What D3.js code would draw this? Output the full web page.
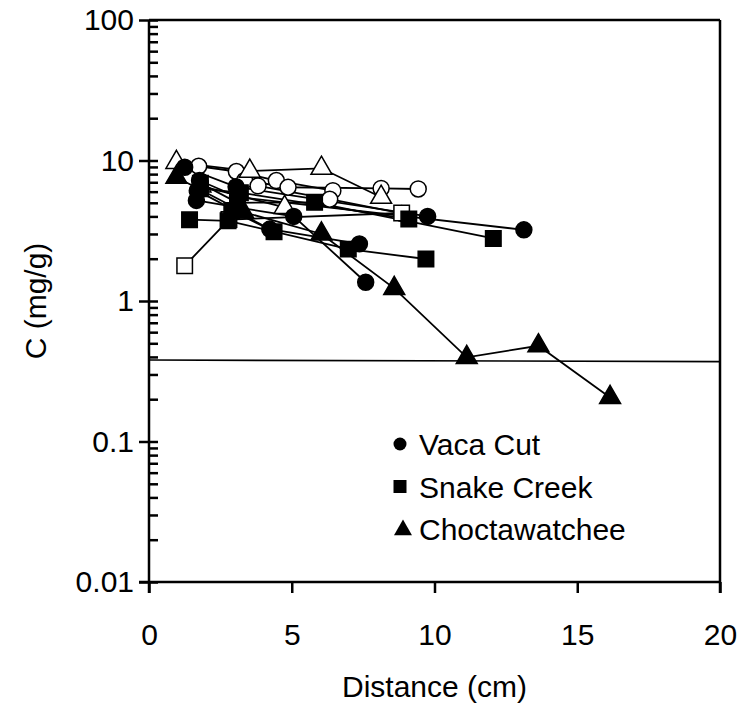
<!DOCTYPE html>
<html>
<head>
<meta charset="utf-8">
<script src="https://cdn.jsdelivr.net/npm/d3@7"></script>
<style>
  body { margin: 0; background: #fff; }
  text { font-family: "Liberation Sans", Arial, sans-serif; }
</style>
</head>
<body>
<script>
// Vaca Cut profiles (filled circles) [distance cm, C mg/g]
const vacaCut1 = [[1.25, 8.95], [3.05, 6.5], [9.76, 4.0]];
const vacaCut2 = [[1.77, 7.2], [3.1, 5.5], [13.13, 3.21]];
const vacaCut3 = [[1.69, 6.1], [4.23, 3.25], [7.37, 2.55]];
const vacaCut4 = [[1.66, 5.2], [3.05, 4.65], [5.07, 4.0], [7.59, 1.36]];
// Vaca Cut, open circles
const vacaCutOpen1 = [[1.74, 9.1], [3.06, 8.35], [4.46, 7.2], [6.44, 6.1]];
const vacaCutOpen2 = [[3.35, 7.2], [4.87, 6.45], [8.13, 6.33], [9.43, 6.27]];
const vacaCutOpen3 = [[3.82, 6.6], [6.33, 5.3], [8.85, 4.2]];

// Snake Creek (filled squares)
const snakeCreek1 = [[1.42, 3.79], [2.77, 3.72], [6.98, 2.34], [9.7, 1.99]];
const snakeCreek2 = [[1.8, 6.9], [3.1, 5.0], [5.8, 5.04], [12.06, 2.79]];
const snakeCreek3 = [[1.8, 6.3], [3.2, 5.9], [9.1, 3.83]];
const snakeCreek4 = [[2.9, 4.4], [4.38, 3.11]];
// Snake Creek, open squares
const snakeCreekOpen1 = [[1.25, 1.78], [2.8, 3.8], [8.85, 4.23]];

// Choctawatchee (filled triangles)
const choctaw1 = [[0.96, 7.6], [3.3, 4.3], [6.04, 3.0], [8.59, 1.23], [11.13, 0.397], [13.64, 0.48], [16.15, 0.206]];
// Choctawatchee, open triangles
const choctawOpen1 = [[0.96, 9.7], [3.53, 8.4], [6.04, 8.8], [8.13, 5.47]];
const choctawOpen2 = [[1.8, 6.6], [4.75, 4.64]];

// reference line
const refLine = [[0, 0.38], [20, 0.37]];

const xTicks = [0, 5, 10, 15, 20];
const yMajor = [0.01, 0.1, 1, 10, 100];
const yLabels = ["0.01", "0.1", "1", "10", "100"];

const legendItems = [
  { name: "Vaca Cut", shape: "circle" },
  { name: "Snake Creek", shape: "square" },
  { name: "Choctawatchee", shape: "triangle" }
];

const series = [
  { data: vacaCutOpen1, shape: "circle", filled: false },
  { data: vacaCutOpen2, shape: "circle", filled: false },
  { data: vacaCutOpen3, shape: "circle", filled: false },
  { data: choctawOpen1, shape: "triangle", filled: false },
  { data: choctawOpen2, shape: "triangle", filled: false },
  { data: snakeCreekOpen1, shape: "square", filled: false },
  { data: vacaCut1, shape: "circle", filled: true },
  { data: vacaCut2, shape: "circle", filled: true },
  { data: vacaCut3, shape: "circle", filled: true },
  { data: vacaCut4, shape: "circle", filled: true },
  { data: snakeCreek1, shape: "square", filled: true },
  { data: snakeCreek2, shape: "square", filled: true },
  { data: snakeCreek3, shape: "square", filled: true },
  { data: snakeCreek4, shape: "square", filled: true },
  { data: choctaw1, shape: "triangle", filled: true }
];

const width = 740, height = 706;
const fontSize = "30px";
const svg = d3.select("body").append("svg").attr("width", width).attr("height", height);

const x = d3.scaleLinear().domain([0, 20]).range([149, 720]);
const y = d3.scaleLog().domain([0.01, 100]).range([582, 20]);

// minor ticks
const yMinor = [];
yMajor.slice(0, -1).forEach((d) => {
  for (let k = 2; k <= 9; k++) yMinor.push(d * k);
});

// frame (top and right)
svg.append("line").attr("x1", x(0)).attr("x2", x(20)).attr("y1", y(100)).attr("y2", y(100))
  .attr("stroke", "#000").attr("stroke-width", 2.5);
svg.append("line").attr("x1", x(20)).attr("x2", x(20)).attr("y1", y(100)).attr("y2", y(0.01) + 11)
  .attr("stroke", "#000").attr("stroke-width", 2.5);

// y axis: outer major ticks with labels
const yAxisOut = svg.append("g").attr("transform", `translate(${x(0)},0)`)
  .call(d3.axisLeft(y).tickValues(yMajor).tickSize(10).tickPadding(5)
    .tickFormat((d, i) => yLabels[i]));
// inner ticks (major + minor)
const yAxisIn = svg.append("g").attr("transform", `translate(${x(0)},0)`)
  .call(d3.axisRight(y).tickValues(yMajor.concat(yMinor)).tickSize(9).tickFormat(""));

const xAxis = svg.append("g").attr("transform", `translate(0,${y(0.01)})`)
  .call(d3.axisBottom(x).tickValues(xTicks).tickSize(11).tickPadding(31));

[yAxisOut, yAxisIn, xAxis].forEach((g) => {
  g.select(".domain").attr("stroke", "#000").attr("stroke-width", 2.5);
  g.selectAll(".tick line").attr("stroke", "#000").attr("stroke-width", 2.5);
  g.selectAll("text").attr("fill", "#000").style("font-size", fontSize)
    .style("font-family", "'Liberation Sans', Arial, sans-serif");
});
yAxisIn.select(".domain").remove();
xAxis.select(".domain").attr("d", `M${x(0) - 10},0H${x(20)}`);
yAxisOut.select(".domain").attr("d", `M0,${y(100)}V${y(0.01) + 11}`);

// titles
svg.append("text").attr("x", x(10)).attr("y", 697).attr("text-anchor", "middle")
  .style("font-size", fontSize).text("Distance (cm)");
svg.append("text").attr("transform", `translate(46,${(y(100) + y(0.01)) / 2}) rotate(-90)`)
  .attr("text-anchor", "middle").style("font-size", fontSize).text("C (mg/g)");

// reference line
const line = d3.line().x((d) => x(d[0])).y((d) => y(d[1]));
svg.append("path").attr("d", line(refLine)).attr("fill", "none")
  .attr("stroke", "#000").attr("stroke-width", 1.6);

const symbolType = { circle: d3.symbolCircle, square: d3.symbolSquare, triangle: d3.symbolTriangle };
const symbolSize = { circle: 200, square: 240, triangle: 190 };

series.forEach((s) => {
  svg.append("path").attr("d", line(s.data)).attr("fill", "none")
    .attr("stroke", "#000").attr("stroke-width", 1.8);
});
series.forEach((s) => {
  svg.selectAll(null).data(s.data).enter().append("path")
    .attr("transform", (d) => `translate(${x(d[0])},${y(d[1])})`)
    .attr("d", d3.symbol().type(symbolType[s.shape]).size(symbolSize[s.shape]))
    .attr("fill", s.filled ? "#000" : "#fff")
    .attr("stroke", "#000").attr("stroke-width", 1.5);
});

// legend
const legend = svg.append("g").attr("transform", "translate(400,444)");
legendItems.forEach((item, i) => {
  const g = legend.append("g").attr("transform", `translate(0,${i * 42.5})`);
  g.append("path")
    .attr("d", d3.symbol().type(symbolType[item.shape]).size(item.shape === "triangle" ? 140 : item.shape === "square" ? 169 : 133))
    .attr("transform", item.shape === "triangle" ? "translate(3,1)" : null)
    .attr("fill", "#000");
  g.append("text").attr("x", 19).attr("y", 11).style("font-size", fontSize).text(item.name);
});
</script>
</body>
</html>
